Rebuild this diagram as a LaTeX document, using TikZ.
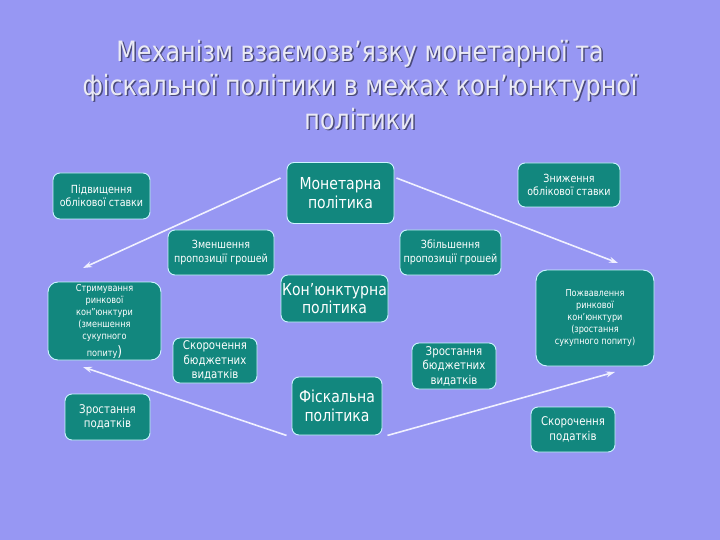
\documentclass[tikz,border=0pt]{standalone}
\usepackage{fontspec}
\setmainfont{DejaVu Sans}[FakeStretch=0.85]
\usepackage{tikz}
\usetikzlibrary{arrows.meta}

\definecolor{fonblue}{HTML}{9797F3}
\definecolor{boxteal}{HTML}{12877E}
\definecolor{boxedge}{HTML}{CCF5FF}
\definecolor{titletext}{HTML}{EAEAF4}
\definecolor{titleshade}{HTML}{4A4A7A}

\tikzset{
  box/.style={draw=boxedge, line width=0.9pt, fill=boxteal, rounded corners=7pt,
    text=white, align=center, inner sep=1pt},
  bigtxt/.style={font=\fontsize{16.5}{18.5}\selectfont},
  midtxt/.style={font=\fontsize{12}{14.5}\selectfont},
  smalltxt/.style={font=\fontsize{11.2}{13.5}\selectfont},
  tinytxt/.style={font=\fontsize{9.6}{12}\selectfont},
  link/.style={-{Stealth[length=9pt, width=6pt]}, draw=white!94!blue, line width=1.6pt}
}

\begin{document}
\begin{tikzpicture}[x=1pt, y=-1pt]

        % FON
        \fill[fonblue] (0,0) rectangle (720,540);
        \useasboundingbox (0,0) rectangle (720,540);

        % ZAGOLOVOK
        \node[text=titleshade, font=\fontsize{28}{34}\selectfont, align=center] (titleshadow) at (361.5,86.5) {Механізм взаємозв’язку монетарної та\\фіскальної політики в межах кон’юнктурної\\політики};
        \node[text=titletext, font=\fontsize{28}{34}\selectfont, align=center] (title) at (360,85) {Механізм взаємозв’язку монетарної та\\фіскальної політики в межах кон’юнктурної\\політики};

        % MONETARNA CHASTYNA
        \node[box, bigtxt, minimum width=107pt, minimum height=61pt] (monet) at (340.5,193) {Монетарна\\політика};
        \node[box, smalltxt, minimum width=97pt, minimum height=46pt] (pidvysh) at (101.5,196) {Підвищення\\облікової ставки};
        \node[box, smalltxt, minimum width=102pt, minimum height=44pt] (znyzh) at (569,185) {Зниження\\облікової ставки};
        \node[box, smalltxt, minimum width=106pt, minimum height=45pt] (zmensh) at (221,252.5) {Зменшення\\пропозиції грошей};
        \node[box, smalltxt, minimum width=101pt, minimum height=45pt] (zbilsh) at (450.5,252.5) {Збільшення\\пропозиції грошей};

        % KONJUNKTURA
        \node[box, bigtxt, minimum width=107pt, minimum height=47pt] (konj) at (334.5,298.5) {Кон’юнктурна\\політика};
        \node[box, tinytxt, rounded corners=10pt, minimum width=113pt, minimum height=78pt] (strym) at (104.5,321) {Стримування\\ринкової\\кон"юнктури\\(зменшення\\сукупного\\[3pt]попиту{\Large)}};
        \node[box, tinytxt, rounded corners=11pt, minimum width=118pt, minimum height=96pt] (pozhv) at (595,318) {Пожвавлення\\ринкової\\кон’юнктури\\(зростання\\сукупного попиту)};

        % FISKALNA CHASTYNA
        \node[box, bigtxt, minimum width=90pt, minimum height=58pt] (fisk) at (337,406) {Фіскальна\\політика};
        \node[box, midtxt, minimum width=84pt, minimum height=45pt] (skorvyd) at (215,360.5) {Скорочення\\бюджетних\\видатків};
        \node[box, midtxt, minimum width=84pt, minimum height=46pt] (zrostvyd) at (454,366) {Зростання\\бюджетних\\видатків};
        \node[box, midtxt, minimum width=85pt, minimum height=46pt] (zrostpod) at (107.5,417) {Зростання\\податків};
        \node[box, midtxt, minimum width=84pt, minimum height=45pt] (skorpod) at (573,429.5) {Скорочення\\податків};

        % STRILKY
        \coordinate (monetend1) at (83,268);
        \coordinate (monetend2) at (618,263);
        \coordinate (fiskend1) at (83,367);
        \coordinate (fiskend2) at (615,372);
        \draw[link] ([xshift=-6pt, yshift=15pt]monet.west) -- (monetend1);
        \draw[link] ([xshift=2pt, yshift=15pt]monet.east) -- (monetend2);
        \draw[link] ([xshift=-5pt]fisk.south west) -- (fiskend1);
        \draw[link] ([xshift=5pt]fisk.south east) -- (fiskend2);
    \end{tikzpicture}
\end{document}
